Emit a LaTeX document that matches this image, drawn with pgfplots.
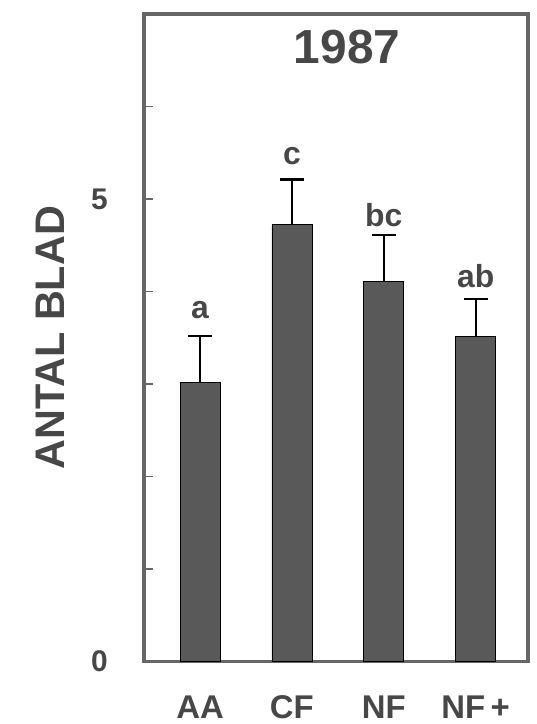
\documentclass[border=0pt]{standalone}
\usepackage{pgfplots}
\pgfplotsset{compat=1.18}
\usepackage{fontspec}
\setmainfont{Liberation Sans}
\definecolor{barfill}{gray}{0.35}
\definecolor{txt}{gray}{0.28}
\begin{document}
\begin{tikzpicture}
\path[use as bounding box] (-144bp,-62.5bp) rectangle (393bp,661.5bp);
\begin{axis}[
  at={(0,0)}, anchor=south west,
  scale only axis,
  width=384bp, height=647.5bp,
  xmin=-0.61, xmax=3.57,
  ymin=0, ymax=7,
  axis line style={line width=3.5bp, draw=black!60},
  xtick={0,1,2,3},
  xticklabels={AA,CF,NF,NF\,+},
  xtick style={draw=none},
  xticklabel style={anchor=base, yshift=-56.5bp, inner sep=0pt, text=txt,
    font=\fontsize{33}{36}\selectfont\bfseries},
  ytick={0,1,2,3,4,5,6,7},
  yticklabels={0,,,,,5,,},
  ytick pos=left,
  tick align=inside,
  ytick style={line width=1.5bp, draw=black!60},
  major tick length=9bp,
  yticklabel style={anchor=east, inner sep=0pt, xshift=-36bp, text=txt,
    font=\fontsize{30}{34}\selectfont\bfseries},
  /pgf/number format/assume math mode=true,
  ylabel={ANTAL BLAD},
  ylabel style={at={(axis description cs:-0.245,0.5)}, anchor=center, text=txt,
    font=\fontsize{41.5}{44}\selectfont\bfseries},
  clip=false,
]
\addplot[ybar, bar width=40bp, fill=barfill, draw=black, line width=0.8bp,
  error bars/.cd, y dir=plus, y explicit,
  error mark=-,
  error bar style={line width=2bp, black},
  error mark options={rotate=90, line width=2.5bp, mark size=12bp, black}]
  coordinates {
  (0,3.02) +- (0,0.50)
  (1,4.72) +- (0,0.49)
  (2,4.11) +- (0,0.50)
  (3,3.51) +- (0,0.41)
  };
\addplot[only marks, mark=none, nodes near coords, point meta=explicit symbolic,
  every node near coord/.style={anchor=base, inner sep=0pt, text=txt,
    font=\fontsize{32}{36}\selectfont\bfseries}]
  coordinates {
  (0,3.71) [a]
  (1,5.37) [c]
  (2,4.70) [bc]
  (3,4.04) [ab]
  };
\addplot[only marks, mark=none, nodes near coords, point meta=explicit symbolic,
  every node near coord/.style={anchor=base, inner sep=0pt, text=txt,
    font=\fontsize{48}{52}\selectfont\bfseries}]
  coordinates {(1.6,6.47) [1987]};
\end{axis}
\end{tikzpicture}
\end{document}
